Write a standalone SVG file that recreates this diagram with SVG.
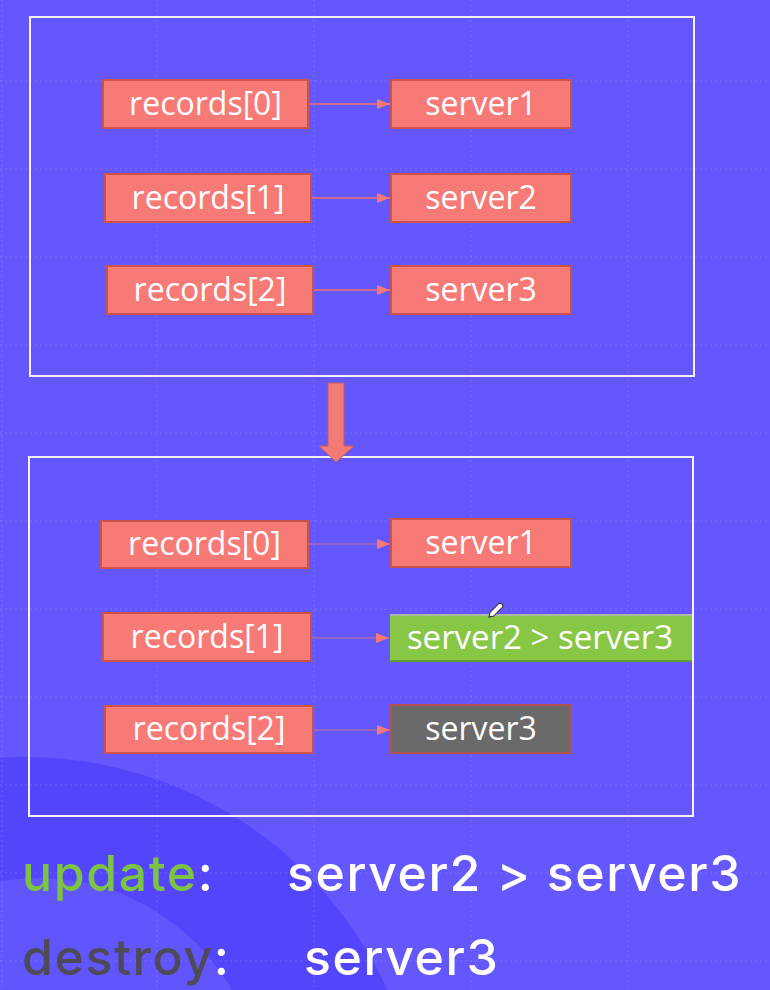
<svg xmlns="http://www.w3.org/2000/svg" width="770" height="990" viewBox="0 0 770 990">
  <style>
    .grid { stroke: #ffffff; stroke-opacity: 0.14; stroke-width: 1; stroke-dasharray: 2 3; }
    .frame { fill: none; stroke: #f4f2ff; stroke-width: 2; }
    .box { fill: #f87a77; stroke: #c9524f; stroke-width: 2; }
    .lbl { font-family: "Open Sans", "Noto Sans", "Liberation Sans", sans-serif; font-size: 32px; fill: #ffffff; text-anchor: middle; }
    .conn { stroke: #f2706e; stroke-width: 1.5; fill: none; marker-end: url(#ah); }
    .conn2 { stroke: #f47a78; stroke-opacity: 0.5; stroke-width: 1.5; fill: none; marker-end: url(#ah); }
    .big { font-family: Inter, "Noto Sans", "Liberation Sans", sans-serif; font-size: 50px; font-weight: 500; letter-spacing: 1.6px; }
  </style>
  <defs>
    <marker id="ah" markerUnits="userSpaceOnUse" markerWidth="13" markerHeight="10" refX="13" refY="5" orient="auto">
      <path d="M0,0 L13,5 L0,10 Z" fill="#f47a78"/>
    </marker>
  </defs>

  <!-- background -->
  <rect x="0" y="0" width="770" height="990" fill="#6357fd"/>
  <circle cx="25" cy="1155" r="398" fill="#5245fc"/>
  <circle cx="39" cy="1100" r="222" fill="#6155fd"/>

  <!-- grid -->
  <g id="grid">
    <line class="grid" x1="0" y1="81" x2="770" y2="81"/>
    <line class="grid" x1="0" y1="169" x2="770" y2="169"/>
    <line class="grid" x1="0" y1="257" x2="770" y2="257"/>
    <line class="grid" x1="0" y1="345" x2="770" y2="345"/>
    <line class="grid" x1="0" y1="433" x2="770" y2="433"/>
    <line class="grid" x1="0" y1="521" x2="770" y2="521"/>
    <line class="grid" x1="0" y1="609" x2="770" y2="609"/>
    <line class="grid" x1="0" y1="697" x2="770" y2="697"/>
    <line class="grid" x1="0" y1="785" x2="770" y2="785"/>
    <line class="grid" x1="0" y1="873" x2="770" y2="873"/>
    <line class="grid" x1="0" y1="961" x2="770" y2="961"/>
    <line class="grid" x1="2" y1="0" x2="2" y2="990"/>
    <line class="grid" x1="157" y1="0" x2="157" y2="990"/>
    <line class="grid" x1="314" y1="0" x2="314" y2="990"/>
    <line class="grid" x1="471" y1="0" x2="471" y2="990"/>
    <line class="grid" x1="628" y1="0" x2="628" y2="990"/>
  </g>

  <!-- frames -->
  <g id="frame-before"><rect class="frame" x="30" y="17" width="664" height="359"/></g>
  <g id="frame-after"><rect class="frame" x="29" y="457" width="664" height="359"/></g>

  <!-- big transition arrow -->
  <g id="transition-arrow">
    <path d="M328,383 L344,383 L344,446 L354,446 L336,462 L319,446 L328,446 Z" fill="#f47a78" stroke="#c85a58" stroke-width="1"/>
  </g>

  <!-- connectors -->
  <g id="connectors">
    <line class="conn" x1="309" y1="104" x2="390" y2="104"/>
    <line class="conn" x1="311" y1="198" x2="390" y2="198"/>
    <line class="conn" x1="313" y1="290" x2="390" y2="290"/>
    <line class="conn2" x1="309" y1="544" x2="390" y2="544"/>
    <line class="conn2" x1="311" y1="638" x2="389" y2="638"/>
    <line class="conn2" x1="313" y1="730" x2="390" y2="730"/>
  </g>

  <!-- top nodes -->
  <g id="t-records0"><rect class="box" x="103" y="80" width="205" height="48"/><text class="lbl" x="205.5" y="115">records[0]</text></g>
  <g id="t-server1"><rect class="box" x="391" y="80" width="180" height="48"/><text class="lbl" x="481" y="115">server1</text></g>
  <g id="t-records1"><rect class="box" x="105" y="174" width="206" height="48"/><text class="lbl" x="208" y="209">records[1]</text></g>
  <g id="t-server2"><rect class="box" x="391" y="174" width="180" height="48"/><text class="lbl" x="481" y="209">server2</text></g>
  <g id="t-records2"><rect class="box" x="107" y="266" width="206" height="48"/><text class="lbl" x="210" y="301">records[2]</text></g>
  <g id="t-server3"><rect class="box" x="391" y="266" width="180" height="48"/><text class="lbl" x="481" y="301">server3</text></g>

  <!-- bottom nodes -->
  <g id="b-records0"><rect class="box" x="101" y="521" width="207" height="47"/><text class="lbl" x="204.5" y="555">records[0]</text></g>
  <g id="b-server1"><rect class="box" x="391" y="519" width="180" height="48"/><text class="lbl" x="481" y="554">server1</text></g>
  <g id="b-records1"><rect class="box" x="103" y="613" width="208" height="48"/><text class="lbl" x="207" y="648">records[1]</text></g>
  <g id="b-server2-3">
    <rect x="390" y="614" width="302" height="48" fill="#87c745"/>
    <line x1="390" y1="615" x2="692" y2="615" stroke="#a9b8a6" stroke-width="2"/>
    <line x1="390" y1="661" x2="692" y2="661" stroke="#5f9e35" stroke-width="2"/>
    <text class="lbl" x="540" y="649" style="font-size:33px">server2 &gt; server3</text>
  </g>
  <g id="b-records2"><rect class="box" x="105" y="706" width="208" height="47"/><text class="lbl" x="209" y="740">records[2]</text></g>
  <g id="b-server3"><rect x="391" y="705" width="180" height="48" fill="#6a6a6a" stroke="#b4504e" stroke-width="2"/><text class="lbl" x="481" y="740">server3</text></g>

  <!-- pencil cursor -->
  <g id="cursor" transform="translate(489,617) rotate(-45)">
    <path d="M0,0 L4,-2.6 L17,-2.6 Q19.5,0 17,2.6 L4,2.6 Z" fill="#ffffff" stroke="#2a2a3a" stroke-width="1"/>
  </g>

  <!-- summary text -->
  <g id="summary">
    <text class="big" x="22" y="891"><tspan fill="#7dc443">update</tspan><tspan fill="#ffffff">:</tspan></text>
    <text class="big" x="287" y="891" fill="#ffffff">server2 &gt; server3</text>
    <text class="big" x="22" y="975"><tspan fill="#4c4b57">destroy</tspan><tspan fill="#ffffff">:</tspan></text>
    <text class="big" x="304" y="975" fill="#ffffff">server3</text>
  </g>
</svg>
